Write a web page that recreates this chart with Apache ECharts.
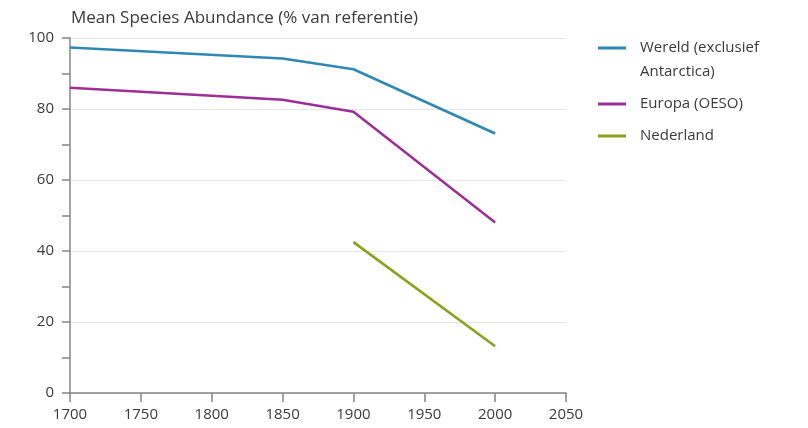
<!DOCTYPE html>
<html>
<head>
<meta charset="utf-8">
<script src="https://cdn.jsdelivr.net/npm/echarts@6/dist/echarts.min.js"></script>
<style>
  html, body { margin: 0; padding: 0; background: #fff; }
  #chart { width: 808px; height: 428px; }
</style>
</head>
<body>
<div id="chart"></div>
<script>
const titleText = 'Mean Species Abundance (% van referentie)'
const seriesNames = ['Wereld (exclusief\nAntarctica)', 'Europa (OESO)', 'Nederland']
const seriesColors = ['#2f88b4', '#9c2e98', '#8c9f1c']

const years = [1700, 1850, 1900, 2000]
const wereld = [97.3, 94.2, 91.2, 73.1]
const europa = [86.0, 82.6, 79.2, 48.0]
const nlYears = [1900, 2000]
const nederland = [42.5, 13.2]

const font = '"Open Sans", Lato, sans-serif'
const axisGray = '#858585'
const textColor = '#3a3a3a'

const pairs = (xs, ys) => xs.map((x, i) => [x, ys[i]])

const chart = echarts.init(document.getElementById('chart'))

const lineSeries = (name, data, color) => ({
  name: name,
  type: 'line',
  data: data,
  symbol: 'none',
  lineStyle: { color: color, width: 2.5 },
  itemStyle: { color: color },
  emphasis: { disabled: true }
})

const option = {
  animation: false,
  title: {
    text: titleText,
    left: 66,
    top: 5,
    textStyle: { fontFamily: font, fontSize: 17, fontWeight: 'normal', color: textColor }
  },
  legend: {
    orient: 'vertical',
    left: 593,
    top: 7,
    itemGap: 8,
    itemWidth: 28,
    itemHeight: 3,
    icon: 'rect',
    // empty first line so the icon sits level with the first line of a two-line name
    formatter: name => name.indexOf('\n') >= 0 ? '\n' + name : name,
    textStyle: { fontFamily: font, fontSize: 15, color: textColor, lineHeight: 24, padding: [0, 0, 0, 9] },
    data: seriesNames
  },
  grid: { left: 70, right: 242, top: 38, bottom: 35 },
  xAxis: {
    type: 'value',
    min: 1700,
    max: 2050,
    interval: 50,
    axisLine: { lineStyle: { color: axisGray, width: 1.5 } },
    axisTick: { show: true, length: 9, lineStyle: { color: axisGray, width: 1.5 } },
    axisLabel: { formatter: v => String(v), margin: 14, fontFamily: font, fontSize: 15, color: textColor },
    splitLine: { show: false }
  },
  yAxis: {
    type: 'value',
    min: 0,
    max: 100,
    interval: 20,
    axisLine: { show: true, lineStyle: { color: axisGray, width: 1.5 } },
    axisTick: { show: true, length: 8, lineStyle: { color: axisGray, width: 1.5 } },
    minorTick: { show: true, splitNumber: 2, length: 8, lineStyle: { color: axisGray, width: 1.5 } },
    axisLabel: { margin: 16, fontFamily: font, fontSize: 15, color: textColor },
    splitLine: { show: true, lineStyle: { color: '#e6e6e6', width: 1 } }
  },
  series: [
    lineSeries(seriesNames[0], pairs(years, wereld), seriesColors[0]),
    lineSeries(seriesNames[1], pairs(years, europa), seriesColors[1]),
    lineSeries(seriesNames[2], pairs(nlYears, nederland), seriesColors[2])
  ]
}

chart.setOption(option)
</script>
</body>
</html>
